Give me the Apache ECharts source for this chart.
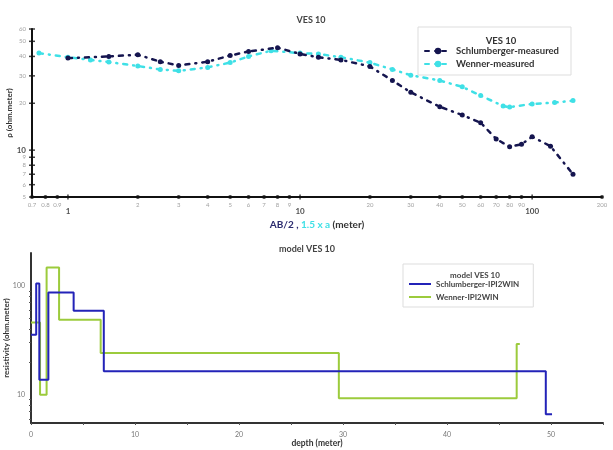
<!DOCTYPE html>
<html>
<head>
<meta charset="utf-8">
<script src="https://cdn.jsdelivr.net/npm/echarts@6/dist/echarts.min.js"></script>
<style>
  html, body { margin: 0; padding: 0; background: #fff; }
  #chart { width: 613px; height: 450px; }
</style>
</head>
<body>
<div id="chart"></div>
<script>
// --- VES 10 measured curves (AB/2 or 1.5 x a, apparent resistivity) ---
var schlX = [1, 1.5, 2, 2.5, 3, 4, 5, 6, 8, 10, 12, 15, 20, 25, 30, 40, 50, 60, 70, 80, 90, 100, 120, 150];
var schlY = [39, 40, 41, 37, 35, 37, 40.5, 43, 45.5, 41.5, 39.5, 38, 34.5, 28, 23.5, 19, 16.8, 15, 11.8, 10.5, 10.9, 12.2, 10.6, 7];
var wenX = [0.75, 1, 1.25, 1.5, 2, 2.5, 3, 4, 5, 6, 7.5, 10, 12, 15, 20, 25, 30, 40, 50, 60, 75, 80, 100, 125, 150];
var wenY = [42, 39.5, 38, 36.8, 34.7, 33, 32.3, 34, 36.5, 40, 43.5, 42, 41.5, 39.5, 36.5, 33, 30.3, 28, 25.5, 22.4, 19.2, 18.9, 19.8, 20.2, 20.8];

// tick labels of the top (log-log) chart
var xMinorTicks = [0.7, 0.8, 0.9, 2, 3, 4, 5, 6, 7, 8, 9, 20, 30, 40, 50, 60, 70, 80, 90, 200];
var xMajorTicks = [1, 10, 100];
var yMinorTicks = [5, 6, 7, 8, 9, 20, 30, 40, 50, 60];
var yMajorTicks = [10];

// --- model VES 10 (depth, resistivity) layer steps ---
var schlModelX = [0, 0.5, 0.8, 1.67, 4.1, 7.0, 49.5, 50.1];
var schlModelY = [35.5, 105, 13.7, 87, 59, 16.4, 6.6, 6.6];
var wenModelX = [0, 0.87, 1.5, 2.7, 6.7, 29.6, 46.7, 47.0];
var wenModelY = [46, 10, 147, 48.7, 24.2, 9.3, 29.2, 29.2];

var NAVY = '#15154f';
var CYAN = '#3fe0e6';
var BLUE = '#2323b8';
var GREEN = '#9ccb3c';
var FONT = 'Lato';

function pairs(xs, ys) {
  return xs.map(function (x, i) { return [x, ys[i]]; });
}

var chart = echarts.init(document.getElementById('chart'));

chart.setOption({
  animation: false,
  textStyle: { fontFamily: FONT },
  title: [
    { text: 'VES 10', left: 306, top: 11, textAlign: 'center',
      textStyle: { fontSize: 9, fontWeight: 'bold', color: '#444' } },
    { text: 'VES 10', left: 496, top: 31, textAlign: 'center',
      textStyle: { fontSize: 9.5, fontWeight: 'bold', color: '#333' } },
    { text: 'model VES 10', left: 302, top: 240, textAlign: 'center',
      textStyle: { fontSize: 9, fontWeight: 'bold', color: '#444' } },
    { text: 'model VES 10', left: 470, top: 266, textAlign: 'center',
      textStyle: { fontSize: 8, fontWeight: 'bold', color: '#444' } }
  ],
  legend: [
    {
      data: ['Schlumberger-measured', 'Wenner-measured'],
      orient: 'vertical', left: 418, top: 27,
      padding: [19, 12, 6, 6], itemGap: 3, itemWidth: 26, itemHeight: 8,
      borderColor: '#ddd', borderWidth: 1,
      textStyle: { fontSize: 9.5, fontWeight: 'bold', color: '#333' }
    },
    {
      data: [{ name: 'Schlumberger-IPI2WIN', icon: 'rect' }, { name: 'Wenner-IPI2WIN', icon: 'rect' }],
      orient: 'vertical', left: 403, top: 264,
      padding: [16, 14, 6, 6], itemGap: 5, itemWidth: 22, itemHeight: 2,
      borderColor: '#ddd', borderWidth: 1,
      textStyle: { fontSize: 8, fontWeight: 'bold', color: '#444' }
    }
  ],
  grid: [
    { left: 32, top: 29, width: 570, height: 168, outerBoundsMode: 'none', containLabel: false },
    { left: 31, top: 253, width: 572, height: 170, outerBoundsMode: 'none', containLabel: false }
  ],
  xAxis: [
    {
      gridIndex: 0, type: 'log', min: 0.7, max: 200, logBase: 10,
      name: '{a|AB/2 , }{b|1.5 x a}{c| (meter)}',
      nameLocation: 'middle', nameGap: 23, nameMoveOverlap: false,
      nameTextStyle: {
        rich: {
          a: { color: '#2a2a6e', fontWeight: 'bold', fontSize: 10, fontFamily: FONT },
          b: { color: CYAN, fontWeight: 'bold', fontSize: 10, fontFamily: FONT },
          c: { color: '#333', fontWeight: 'bold', fontSize: 10, fontFamily: FONT }
        }
      },
      axisLine: { lineStyle: { color: '#111', width: 2 } },
      axisTick: { show: false },
      axisLabel: { show: false },
      splitLine: { show: false }
    },
    {
      gridIndex: 1, type: 'value', min: 0, max: 55, interval: 5,
      name: 'depth (meter)', nameLocation: 'middle', nameGap: 16, nameMoveOverlap: false,
      nameTextStyle: { fontSize: 8.5, fontWeight: 'bold', color: '#333' },
      axisLine: { lineStyle: { color: '#333', width: 2 } },
      axisTick: { show: true, length: 2, lineStyle: { color: '#555' } },
      axisLabel: {
        fontSize: 7, color: '#777', margin: 8,
        formatter: function (v) { return v % 10 === 0 && v < 55 ? String(v) : ''; }
      },
      splitLine: { show: false }
    }
  ],
  yAxis: [
    {
      gridIndex: 0, type: 'log', min: 5, max: 60, logBase: 10,
      name: 'ρ (ohm.meter)', nameLocation: 'middle', nameGap: 19, nameMoveOverlap: false,
      nameTextStyle: { fontSize: 8, fontWeight: 'bold', color: '#333' },
      axisLine: { lineStyle: { color: '#111', width: 2 } },
      axisTick: { show: false },
      axisLabel: { show: false },
      splitLine: { show: false }
    },
    {
      gridIndex: 1, type: 'log', min: 5.5, max: 200, logBase: 10,
      name: 'resistivity (ohm.meter)', nameLocation: 'middle', nameGap: 21, nameMoveOverlap: false,
      nameTextStyle: { fontSize: 8, fontWeight: 'bold', color: '#333' },
      axisLine: { lineStyle: { color: '#333', width: 2 } },
      axisTick: { show: false },
      minorTick: { show: true, splitNumber: 9, length: 2, lineStyle: { color: '#555' } },
      axisLabel: {
        fontSize: 7, color: '#777', margin: 6,
        showMinLabel: false, showMaxLabel: false,
        formatter: function (v) { return (Math.abs(v - 10) < 0.01 || Math.abs(v - 100) < 0.1) ? String(Math.round(v)) : ''; }
      },
      splitLine: { show: false }
    }
  ],
  series: [
    {
      name: 'Schlumberger-measured', type: 'line', xAxisIndex: 0, yAxisIndex: 0,
      data: pairs(schlX, schlY),
      symbol: 'circle', symbolSize: 5, showAllSymbol: true,
      itemStyle: { color: NAVY },
      lineStyle: { color: NAVY, width: 2.5, type: [4, 6, 1, 6], cap: 'round' },
      z: 3
    },
    {
      name: 'Wenner-measured', type: 'line', xAxisIndex: 0, yAxisIndex: 0,
      data: pairs(wenX, wenY),
      symbol: 'circle', symbolSize: 5, showAllSymbol: true,
      itemStyle: { color: CYAN },
      lineStyle: { color: CYAN, width: 2.5, type: [4, 6, 1, 6], cap: 'round' },
      z: 2
    },
    {
      name: 'xMinorTicks', type: 'scatter', xAxisIndex: 0, yAxisIndex: 0, silent: true, clip: false,
      data: xMinorTicks.map(function (v) { return [v, 5]; }),
      symbol: 'circle', symbolSize: 4, itemStyle: { color: '#111' },
      label: { show: true, position: 'bottom', distance: 3, fontSize: 6, color: '#888',
        formatter: function (p) { return String(p.value[0]); } }
    },
    {
      name: 'xMajorTicks', type: 'scatter', xAxisIndex: 0, yAxisIndex: 0, silent: true, clip: false,
      data: xMajorTicks.map(function (v) { return [v, 5]; }),
      symbol: 'rect', symbolSize: [1.5, 5], itemStyle: { color: '#111' },
      label: { show: true, position: 'bottom', distance: 8, fontSize: 8, fontWeight: 'bold', color: '#222',
        formatter: function (p) { return String(p.value[0]); } }
    },
    {
      name: 'yMinorTicks', type: 'scatter', xAxisIndex: 0, yAxisIndex: 0, silent: true, clip: false,
      data: yMinorTicks.map(function (v) { return [0.7, v]; }),
      symbol: 'rect', symbolSize: [6, 1.5], itemStyle: { color: '#111' },
      label: { show: true, position: 'left', distance: 3, fontSize: 6, color: '#888',
        formatter: function (p) { return String(p.value[1]); } }
    },
    {
      name: 'yMajorTicks', type: 'scatter', xAxisIndex: 0, yAxisIndex: 0, silent: true, clip: false,
      data: yMajorTicks.map(function (v) { return [0.7, v]; }),
      symbol: 'rect', symbolSize: [6, 1.5], itemStyle: { color: '#111' },
      label: { show: true, position: 'left', distance: 3, fontSize: 8, fontWeight: 'bold', color: '#222',
        formatter: function (p) { return String(p.value[1]); } }
    },
    {
      name: 'Schlumberger-IPI2WIN', type: 'line', xAxisIndex: 1, yAxisIndex: 1,
      data: pairs(schlModelX, schlModelY), step: 'end',
      symbol: 'none', itemStyle: { color: BLUE },
      lineStyle: { color: BLUE, width: 2 }, z: 3
    },
    {
      name: 'Wenner-IPI2WIN', type: 'line', xAxisIndex: 1, yAxisIndex: 1,
      data: pairs(wenModelX, wenModelY), step: 'end',
      symbol: 'none', itemStyle: { color: GREEN },
      lineStyle: { color: GREEN, width: 2 }, z: 2
    }
  ]
});
</script>
</body>
</html>
